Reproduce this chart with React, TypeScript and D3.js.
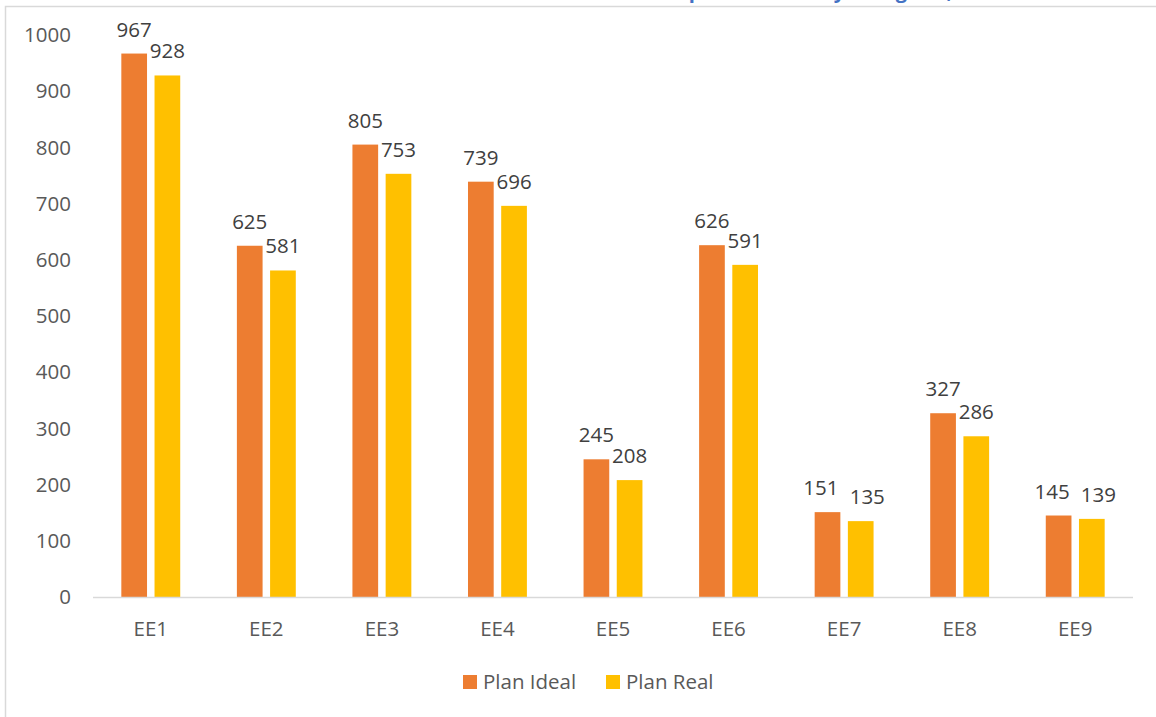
import React from 'react';
import * as d3 from 'd3';

const categories = ['EE1', 'EE2', 'EE3', 'EE4', 'EE5', 'EE6', 'EE7', 'EE8', 'EE9'];
const planIdeal = [967, 625, 805, 739, 245, 626, 151, 327, 145];
const planReal = [928, 581, 753, 696, 208, 591, 135, 286, 139];
const seriesNames = ['Plan Ideal', 'Plan Real'];
const seriesColors = ['#ED7D31', '#FFC000'];
const yTicks = [0, 100, 200, 300, 400, 500, 600, 700, 800, 900, 1000];
const titleText = 'Metas Cumplidas del Año y Categoría, 2021';

const W = 1156;
const H = 717;
const FONT = '"Open Sans", "Noto Sans", sans-serif';

export default function App() {
  const x = d3.scaleBand<string>().domain(categories).range([93, 1133]).paddingInner(0).paddingOuter(0);
  const inner = d3.scaleBand<string>().domain(seriesNames).range([-29.45, 29.45]).paddingInner(0.226).paddingOuter(0);
  const y = d3.scaleLinear().domain([0, 1000]).range([597, 35]);
  const seriesValues = [planIdeal, planReal];

  const charW = 0.572 * 20;
  const labels: { x: number; y: number; text: string }[] = [];
  categories.forEach((c, i) => {
    const cx = (x(c) as number) + x.bandwidth() / 2;
    const items = seriesNames.map((s, si) => {
      const v = seriesValues[si][i];
      return {
        x: cx + (inner(s) as number) + inner.bandwidth() / 2,
        y: y(v) - 17,
        text: String(v),
      };
    });
    const a = items[0];
    const b = items[1];
    const wa = a.text.length * charW;
    const wb = b.text.length * charW;
    const minSep = (wa + wb) / 2 + 12;
    if (Math.abs(a.y - b.y) < 15 && b.x - a.x < minSep) {
      const extra = (minSep - (b.x - a.x)) / 2;
      a.x -= extra;
      b.x += extra;
    }
    labels.push(a, b);
  });

  return (
    <svg width={W} height={H} style={{ position: 'absolute', left: 0, top: 0, background: '#fff' }} fontFamily={FONT}>
      <rect x={0} y={0} width={W} height={H} fill="#fff" />
      <text x={790} y={-2} textAnchor="middle" fontSize={20} fontWeight="bold" fill="#4472C4">{titleText}</text>
      <rect x={5.5} y={6.5} width={W + 50} height={H + 50} fill="none" stroke="#d9d9d9" strokeWidth={1.5} />

      {yTicks.map((t) => (
        <text key={t} x={71} y={y(t)} dy="0.35em" textAnchor="end" fontSize={20.5} fill="#595959">{t}</text>
      ))}

      {categories.map((c, i) => (
        <g key={c}>
          {seriesNames.map((s, si) => {
            const v = seriesValues[si][i];
            return (
              <rect
                key={s}
                x={(x(c) as number) + x.bandwidth() / 2 + (inner(s) as number)}
                y={y(v)}
                width={inner.bandwidth()}
                height={y(0) - y(v)}
                fill={seriesColors[si]}
              />
            );
          })}
          <text x={(x(c) as number) + x.bandwidth() / 2} y={636} textAnchor="middle" fontSize={20.5} fill="#595959">{c}</text>
        </g>
      ))}

      <line x1={93} x2={1133} y1={y(0) + 0.5} y2={y(0) + 0.5} stroke="#d9d9d9" strokeWidth={1.5} />

      {labels.map((l, i) => (
        <text key={i} x={l.x} y={l.y} textAnchor="middle" fontSize={20.5} fill="#404040">{l.text}</text>
      ))}

      <g>
        <rect x={463} y={675} width={14} height={14} fill={seriesColors[0]} />
        <text x={483} y={689} fontSize={20.5} fill="#595959">{seriesNames[0]}</text>
        <rect x={606} y={675} width={14} height={14} fill={seriesColors[1]} />
        <text x={626} y={689} fontSize={20.5} fill="#595959">{seriesNames[1]}</text>
      </g>
    </svg>
  );
}
